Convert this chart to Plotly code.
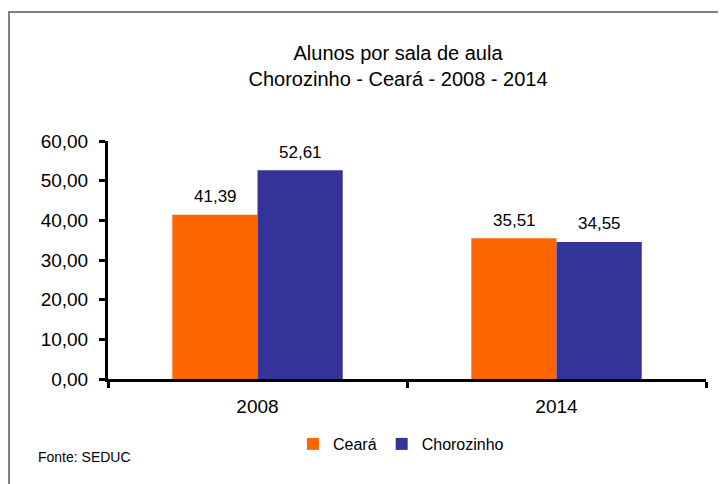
import plotly.graph_objects as go

# dados
anos = ["2008", "2014"]
ceara = [41.39, 35.51]
chorozinho = [52.61, 34.55]
y_ticks = [0, 10, 20, 30, 40, 50, 60]

W, H = 726, 484
OFF = 8  # margem padrão do <body> na página gerada
ml, mr, mt, mb = 108 - OFF, 20 + OFF, 141 - OFF, 105 + OFF
pw = W - ml - mr
ph = H - mt - mb


def py(y_px):
    # pixel vertical da página -> coordenada paper
    return (mt + ph - (y_px - OFF)) / ph


def px(x_px):
    return (x_px - OFF - ml) / pw


fig = go.Figure()
fig.add_trace(go.Bar(x=anos, y=ceara, name="Ceará", marker=dict(color="#FF6600", line_width=0)))
fig.add_trace(go.Bar(x=anos, y=chorozinho, name="Chorozinho", marker=dict(color="#333399", line_width=0)))

# rótulos de dados (x = índice da categoria)
for serie, off in ((ceara, -42.5), (chorozinho, 42.5)):
    for i, v in enumerate(serie):
        fig.add_annotation(x=i, y=v, text=f"{v:.2f}".replace(".", ","), showarrow=False,
                           xshift=off, yshift=18, yanchor="middle",
                           font=dict(size=17, color="black"))

# moldura (só topo e esquerda ficam visíveis)
fig.add_shape(type="rect", xref="paper", yref="paper",
              x0=px(9), x1=px(W + 20), y0=py(H + 20), y1=py(12),
              line=dict(color="#7f7f7f", width=2), layer="below")

fig.add_annotation(xref="paper", yref="paper", x=px(36), y=py(457),
                   text="Fonte: SEDUC", showarrow=False, xanchor="left", yanchor="middle",
                   font=dict(size=14, color="black"))

fig.update_layout(
    width=W, height=H,
    margin=dict(l=ml, r=mr, t=mt, b=mb),
    paper_bgcolor="white", plot_bgcolor="white",
    font=dict(family="Arial, Liberation Sans, sans-serif", color="black"),
    separators=",.",
    title=dict(text="Alunos por sala de aula<br>Chorozinho - Ceará - 2008 - 2014",
               x=(398 - OFF) / W, xanchor="center", y=1 - (60 - OFF) / H, yanchor="middle",
               font=dict(size=20, color="black")),
    barmode="group", bargap=0.43, bargroupgap=0,
    showlegend=True,
    legend=dict(orientation="h", x=px(401), xanchor="center", y=py(444),
                yanchor="middle", font=dict(size=16), itemwidth=30, tracegroupgap=0),
)
fig.update_xaxes(type="category", range=[-0.5, len(anos) - 0.5], showline=True, linecolor="black",
                 linewidth=3, ticks="outside", tickson="boundaries", ticklen=6, tickwidth=3,
                 tickcolor="black", tickfont=dict(size=19), ticklabelstandoff=8, showgrid=False)
fig.update_yaxes(range=[0, 60], tickvals=y_ticks, tickformat=".2f", showline=True, linecolor="black",
                 linewidth=3, ticks="outside", ticklen=6, tickwidth=3, tickcolor="black",
                 tickfont=dict(size=19), ticklabelstandoff=7, showgrid=False, zeroline=False)

fig.write_html("out.html")
